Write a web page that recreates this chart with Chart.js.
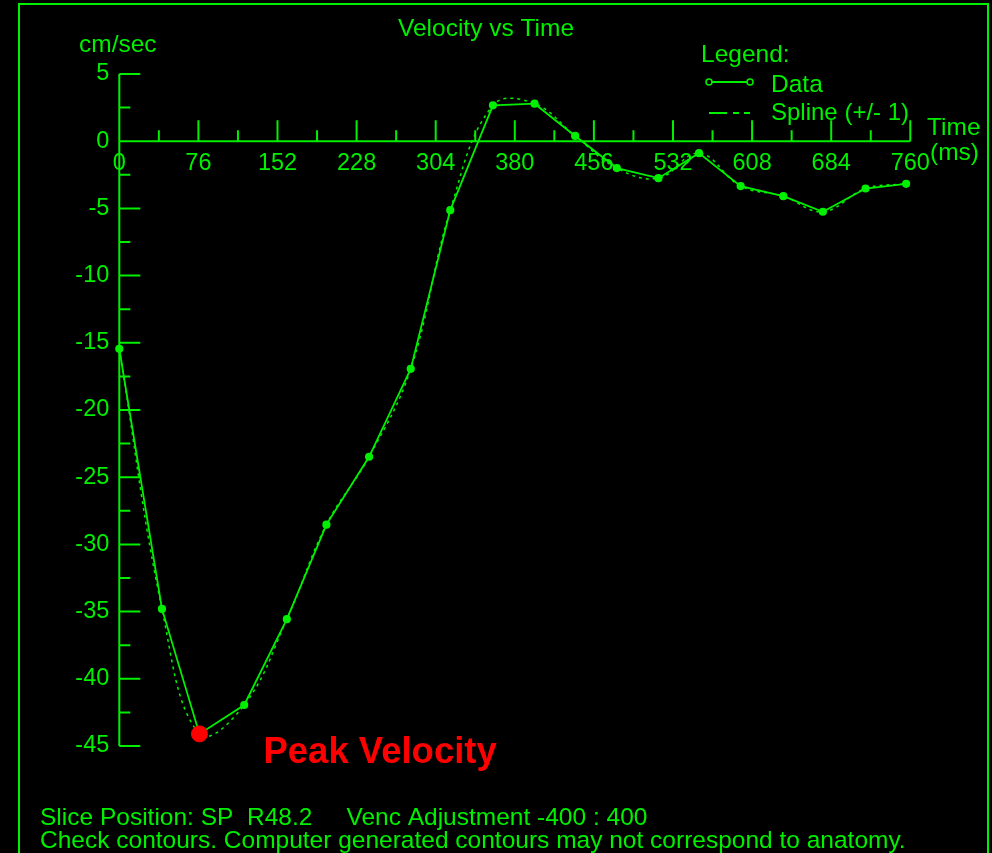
<!DOCTYPE html>
<html>
<head>
<meta charset="utf-8">
<title>Velocity vs Time</title>
<script src="https://cdn.jsdelivr.net/npm/chart.js@4/dist/chart.umd.min.js"></script>
<style>
  html, body { margin: 0; padding: 0; background: #000; }
  #wrap { width: 992px; height: 853px; position: relative; }
</style>
</head>
<body>
<div id="wrap"><canvas id="chart" width="992" height="853"></canvas></div>
<script>
// Sample times (ms) across the cardiac cycle
const timesMs = [0, 41, 77, 120, 161, 199, 240, 280, 318, 359,
                 399, 438, 478, 518, 557, 597, 638, 676, 717, 756];
// Mean velocity per frame (cm/sec)
const velocity = [-15.45, -34.8, -44.1, -41.95, -35.56, -28.53, -23.48, -16.94, -5.13, 2.67,
                  2.79, 0.39, -2.0, -2.75, -0.89, -3.34, -4.09, -5.25, -3.52, -3.17];
// Index of the peak velocity frame
const peakIndex = 2;
// Axis ranges and tick steps
const xTickStep = 76, xMax = 760;
const yTickStep = 5, yMin = -45, yMax = 5;
// Text
const chartTitle = 'Velocity vs Time';
const yUnit = 'cm/sec';
const xUnit = ['Time', '(ms)'];
const legendHeading = 'Legend:';
const seriesNames = ['Data', 'Spline (+/- 1)'];
const peakLabel = 'Peak Velocity';
const footerLines = [
  'Slice Position: SP  R48.2     Venc Adjustment -400 : 400',
  'Check contours. Computer generated contours may not correspond to anatomy.'
];

const GREEN = '#00f000';
const FONT = '"Liberation Sans", Arial, sans-serif';

const points = timesMs.map((t, i) => ({ x: t, y: velocity[i] }));

// Axis lines, tick marks, frame, legend and captions
const decorations = {
  id: 'decorations',
  beforeDraw(chart) {
    const ctx = chart.ctx;
    ctx.save();
    ctx.fillStyle = '#000';
    ctx.fillRect(0, 0, chart.width, chart.height);
    // outer frame
    ctx.strokeStyle = GREEN;
    ctx.lineWidth = 2;
    ctx.strokeRect(19, 4, 969, 900);
    ctx.restore();
  },
  afterDraw(chart) {
    const ctx = chart.ctx;
    const xs = chart.scales.x, ys = chart.scales.y;
    const x0 = xs.getPixelForValue(0);
    const y0 = ys.getPixelForValue(0);
    ctx.save();
    ctx.strokeStyle = GREEN;
    ctx.lineWidth = 2;
    ctx.lineCap = 'butt';
    ctx.beginPath();
    // y axis line
    ctx.moveTo(x0, ys.getPixelForValue(yMax));
    ctx.lineTo(x0, ys.getPixelForValue(yMin));
    // x axis line
    ctx.moveTo(x0, y0);
    ctx.lineTo(xs.getPixelForValue(xMax), y0);
    // y major + minor ticks (pointing right)
    const yt = ys.ticks.map(t => t.value);
    yt.forEach((v, i) => {
      const py = ys.getPixelForValue(v);
      ctx.moveTo(x0, py); ctx.lineTo(x0 + 21, py);
      if (i < yt.length - 1) {
        const pm = ys.getPixelForValue((v + yt[i + 1]) / 2);
        ctx.moveTo(x0, pm); ctx.lineTo(x0 + 11, pm);
      }
    });
    // x major + minor ticks (pointing up)
    const xt = xs.ticks.map(t => t.value);
    xt.forEach((v, i) => {
      const px = xs.getPixelForValue(v);
      if (v !== 0) { ctx.moveTo(px, y0); ctx.lineTo(px, y0 - 21); }
      if (i < xt.length - 1) {
        const pm = xs.getPixelForValue((v + xt[i + 1]) / 2);
        ctx.moveTo(pm, y0); ctx.lineTo(pm, y0 - 11);
      }
    });
    ctx.stroke();

    // texts
    ctx.fillStyle = GREEN;
    ctx.textBaseline = 'alphabetic';
    ctx.font = '24.5px ' + FONT;
    ctx.textAlign = 'center';
    ctx.fillText(chartTitle, 486, 36);
    ctx.textAlign = 'left';
    ctx.fillText(yUnit, 79, 52);
    ctx.fillText(xUnit[0], 927, 135);
    ctx.fillText(xUnit[1], 930, 160);
    ctx.fillText(legendHeading, 701, 62);
    ctx.fillText(seriesNames[0], 771, 92);
    ctx.font = '24px ' + FONT;
    ctx.fillText(seriesNames[1], 771, 120);
    ctx.font = '24.5px ' + FONT;
    footerLines.forEach((line, i) => ctx.fillText(line, 40, 825 + i * 23));

    // legend symbols
    ctx.lineWidth = 2;
    ctx.beginPath();
    ctx.moveTo(712, 82); ctx.lineTo(747, 82);
    ctx.stroke();
    ctx.lineWidth = 1.5;
    [709, 750].forEach(cx => {
      ctx.beginPath(); ctx.arc(cx, 82, 3, 0, Math.PI * 2); ctx.stroke();
    });
    ctx.lineWidth = 2;
    ctx.setLineDash([18, 6, 6, 5, 6]);
    ctx.beginPath();
    ctx.moveTo(709, 113); ctx.lineTo(751, 113);
    ctx.stroke();
    ctx.setLineDash([]);

    // peak annotation next to the peak point
    const pk = chart.getDatasetMeta(0).data[0];
    ctx.fillStyle = '#ff0000';
    ctx.font = 'bold 36.5px ' + FONT;
    ctx.textAlign = 'left';
    ctx.fillText(peakLabel, pk.x + 64, pk.y + 29);
    ctx.restore();
  }
};

new Chart(document.getElementById('chart'), {
  type: 'scatter',
  data: {
    datasets: [
      {
        label: 'Peak',
        data: [points[peakIndex]],
        pointRadius: 8,
        pointBackgroundColor: '#ff0000',
        pointBorderColor: '#ff0000',
        showLine: false,
        clip: false
      },
      {
        label: seriesNames[0],
        data: points,
        showLine: true,
        borderColor: GREEN,
        borderWidth: 1.8,
        tension: 0,
        pointRadius: 3.2,
        pointBackgroundColor: GREEN,
        pointBorderColor: GREEN,
        clip: false
      },
      {
        label: seriesNames[1],
        data: points,
        showLine: true,
        borderColor: GREEN,
        borderWidth: 1.5,
        borderDash: [3, 4],
        tension: 0.4,
        pointRadius: 0,
        clip: false
      }
    ]
  },
  options: {
    responsive: false,
    animation: false,
    devicePixelRatio: 1,
    layout: { padding: { top: 74, bottom: 107, right: 81.7, left: 0 } },
    plugins: { legend: { display: false }, tooltip: { enabled: false }, title: { display: false } },
    scales: {
      x: {
        type: 'linear',
        position: { y: 0 },
        min: 0, max: xMax,
        grid: { display: false, drawTicks: false },
        border: { display: false },
        ticks: {
          stepSize: xTickStep, autoSkip: false, maxRotation: 0,
          color: GREEN, font: { family: FONT, size: 23.5 }, padding: 8
        }
      },
      y: {
        type: 'linear',
        position: 'left',
        min: yMin, max: yMax,
        grid: { display: false, drawTicks: false },
        border: { display: false },
        afterFit(scale) { scale.width = 119.3; },
        ticks: {
          stepSize: yTickStep, autoSkip: false,
          color: GREEN, font: { family: FONT, size: 23.5 }, padding: 10
        }
      }
    }
  },
  plugins: [decorations]
});
</script>
</body>
</html>
